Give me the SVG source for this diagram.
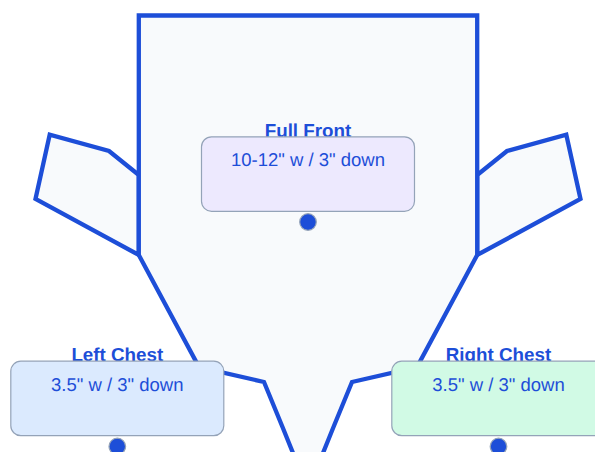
<svg xmlns="http://www.w3.org/2000/svg" width="595" height="452" viewBox="0 0 595 452">
<style>
.g{fill:#f8fafc;stroke:#1d4ed8;stroke-width:4.300}
.b{stroke:#94a3b8;stroke-width:1.200}
text{font-family:"Liberation Sans",Arial,sans-serif;font-size:18.500px;fill:#1d4ed8;text-anchor:middle;text-rendering:geometricPrecision}
.t{font-weight:700;font-size:18.800px}
.d{fill:#1d4ed8;stroke:#94a3b8;stroke-width:1.200}
</style>
<rect width="595" height="452" fill="#fff"/>
<g id="garment">
<path class="g" d="M138.800 175 L109 151 L49.700 134.700 L35.500 199 L138.800 255 Z"/>
<path class="g" d="M477.200 175 L507 151 L566.300 134.700 L580.500 199 L477.200 255 Z"/>
<path class="g" d="M138.800 15.500 H477.200 V255 L417 367 L352 382 L333.500 427 L321 458 H295 L282.500 427 L264 382 L199 367 L138.800 255 Z"/>
</g>
<g id="full-front">
<text class="t" x="308" y="137">Full Front</text>
<rect class="b" x="201.500" y="136.800" width="213" height="74.500" rx="10" fill="#ede9fe"/>
<text x="308" y="166">10-12" w / 3" down</text>
<circle class="d" cx="308" cy="222" r="8.300"/>
</g>
<g id="left-chest">
<text class="t" x="117.300" y="361">Left Chest</text>
<rect class="b" x="10.800" y="361.200" width="213" height="74.500" rx="10" fill="#dbeafe"/>
<text x="117.300" y="391">3.5" w / 3" down</text>
<circle class="d" cx="117.300" cy="446.500" r="8.300"/>
</g>
<g id="right-chest">
<text class="t" x="498.500" y="361">Right Chest</text>
<rect class="b" x="391.800" y="361.200" width="213" height="74.500" rx="10" fill="#d1fae5"/>
<text x="498.500" y="391">3.5" w / 3" down</text>
<circle class="d" cx="498.500" cy="446.500" r="8.300"/>
</g>
<g id="connectors"/>
</svg>
